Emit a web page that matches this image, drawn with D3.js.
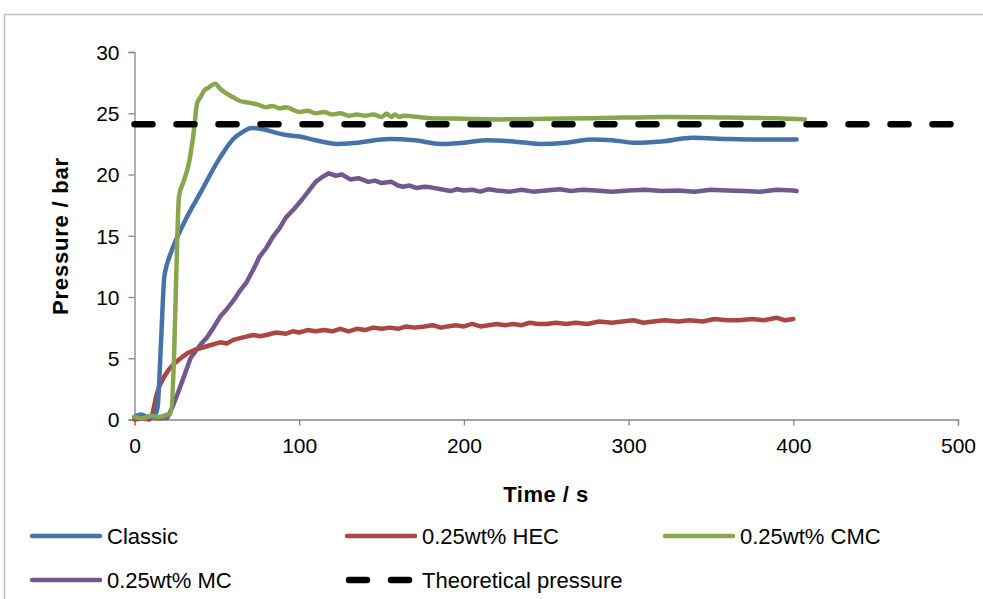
<!DOCTYPE html>
<html>
<head>
<meta charset="utf-8">
<script src="https://cdnjs.cloudflare.com/ajax/libs/d3/7.8.5/d3.min.js"></script>
<style>
  body { margin: 0; background: #fff; }
  text { font-family: "Liberation Sans", Arial, sans-serif; fill: #000; }
</style>
</head>
<body>
<div id="chart"></div>
<script>
var svgWidth = 983;
var svgHeight = 599;

// Series data (time in s, pressure in bar)
var classicTime = [0, 4, 8, 12, 14, 16, 18, 19, 21, 25, 31, 40, 52, 60, 66, 71, 78, 86, 93, 100, 110, 123, 135, 155, 170, 186, 200, 214, 230, 246, 262, 277, 290, 303, 320, 339, 360, 380, 402];
var classicPressure = [0.2, 0.4, 0.2, 0.3, 1.0, 6.0, 11.5, 12.3, 13.2, 14.6, 16.3, 18.5, 21.4, 22.9, 23.5, 23.8, 23.7, 23.4, 23.2, 23.1, 22.8, 22.5, 22.6, 22.9, 22.8, 22.5, 22.6, 22.8, 22.7, 22.5, 22.6, 22.85, 22.8, 22.6, 22.7, 23.0, 22.9, 22.85, 22.85];

var hecTime = [0, 5, 9, 11, 13, 15, 18, 21, 24, 28, 32, 37, 42, 47, 52, 56, 60, 66, 72, 76, 80, 86, 92, 96, 100, 105, 110, 115, 120, 125, 130, 135, 140, 145, 150, 155, 160, 165, 170, 176, 181, 186, 190, 195, 200, 205, 210, 215, 220, 225, 230, 235, 240, 245, 250, 256, 262, 268, 275, 282, 290, 296, 303, 309, 315, 322, 330, 337, 345, 352, 360, 367, 375, 382, 390, 395, 400];
var hecPressure = [0, 0.1, 0, 0.5, 1.8, 2.7, 3.5, 4.1, 4.55, 5.0, 5.4, 5.7, 5.9, 6.1, 6.3, 6.2, 6.5, 6.7, 6.9, 6.8, 6.9, 7.1, 7.0, 7.2, 7.1, 7.3, 7.2, 7.3, 7.2, 7.4, 7.2, 7.4, 7.3, 7.5, 7.4, 7.5, 7.4, 7.6, 7.5, 7.6, 7.7, 7.5, 7.6, 7.7, 7.6, 7.8, 7.6, 7.7, 7.8, 7.7, 7.8, 7.7, 7.9, 7.8, 7.8, 7.9, 7.8, 7.9, 7.8, 8.0, 7.9, 8.0, 8.1, 7.9, 8.0, 8.1, 8.0, 8.1, 8.0, 8.2, 8.1, 8.1, 8.2, 8.1, 8.3, 8.1, 8.2];

var cmcTime = [0, 5, 10, 15, 20, 22, 24, 26, 27, 30, 33, 36, 38, 40, 42, 45, 49, 52, 56, 60, 64, 68, 72, 75, 80, 84, 88, 92, 96, 100, 105, 110, 115, 120, 125, 130, 135, 140, 145, 150, 153, 156, 158, 161, 163, 180, 200, 222, 250, 280, 323, 360, 390, 407];
var cmcPressure = [0.2, 0.1, 0.3, 0.2, 0.4, 0.5, 5.0, 15.0, 18.2, 19.5, 20.9, 23.5, 25.8, 26.3, 26.8, 27.1, 27.4, 27.0, 26.6, 26.3, 26.0, 25.9, 25.8, 25.7, 25.5, 25.6, 25.4, 25.5, 25.3, 25.1, 25.2, 25.0, 25.1, 24.9, 25.0, 24.8, 24.9, 24.8, 24.9, 24.7, 24.95, 24.7, 24.9, 24.7, 24.8, 24.6, 24.55, 24.5, 24.55, 24.6, 24.7, 24.65, 24.6, 24.5];

var mcTime = [0, 5, 10, 15, 20, 23, 27, 30, 34, 40, 44, 48, 52, 56, 60, 64, 68, 72, 76, 80, 84, 88, 92, 97, 102, 106, 110, 114, 118, 122, 126, 131, 136, 142, 146, 150, 156, 160, 163, 167, 171, 176, 180, 186, 192, 196, 200, 205, 210, 215, 220, 228, 235, 242, 250, 258, 265, 272, 280, 290, 300, 310, 320, 330, 340, 350, 360, 370, 380, 390, 400, 402];
var mcPressure = [0.2, 0.1, 0.2, 0.1, 0.15, 1.0, 2.4, 3.5, 5.0, 6.1, 6.7, 7.5, 8.4, 9.0, 9.7, 10.5, 11.2, 12.2, 13.3, 14.0, 14.9, 15.6, 16.5, 17.2, 18.0, 18.7, 19.4, 19.8, 20.1, 19.9, 20.0, 19.6, 19.7, 19.4, 19.5, 19.3, 19.4, 19.1, 19.0, 19.1, 18.9, 19.0, 18.95, 18.8, 18.65, 18.8, 18.7, 18.75, 18.6, 18.8, 18.7, 18.6, 18.75, 18.6, 18.7, 18.8, 18.65, 18.75, 18.7, 18.6, 18.7, 18.75, 18.65, 18.7, 18.6, 18.75, 18.7, 18.65, 18.6, 18.75, 18.7, 18.65];

var theoreticalTime = [0, 500];
var theoreticalPressure = [24.1, 24.1];

var xTicks = [0, 100, 200, 300, 400, 500];
var yTicks = [0, 5, 10, 15, 20, 25, 30];

var seriesNames = ["Classic", "0.25wt% HEC", "0.25wt% CMC", "0.25wt% MC", "Theoretical pressure"];
var seriesColors = ["#4572A7", "#AA4643", "#89A54E", "#71588F", "#000000"];

function zipSeries(times, values) {
  return times.map((t, i) => ({ t: t, v: values[i] }));
}

var series = [
  zipSeries(classicTime, classicPressure),
  zipSeries(hecTime, hecPressure),
  zipSeries(cmcTime, cmcPressure),
  zipSeries(mcTime, mcPressure),
  zipSeries(theoreticalTime, theoreticalPressure)
];

var svg = d3.select("#chart")
  .append("svg")
  .attr("width", svgWidth)
  .attr("height", svgHeight);

// chart frame
svg.append("rect")
  .attr("x", 4.5)
  .attr("y", 14.5)
  .attr("width", 1000)
  .attr("height", 700)
  .attr("fill", "none")
  .attr("stroke", "#bfbfbf")
  .attr("stroke-width", 1.5);

var xScale = d3.scaleLinear().domain([0, 500]).range([134.5, 958]);
var yScale = d3.scaleLinear().domain([0, 30]).range([419.5, 52]);

var bottomAxis = d3.axisBottom(xScale).tickValues(xTicks).tickSize(6).tickPadding(13);
var leftAxis = d3.axisLeft(yScale).tickValues(yTicks).tickSize(6).tickPadding(9);

var xAxis = svg.append("g")
  .attr("transform", `translate(0, ${yScale(0)})`)
  .call(bottomAxis);

var yAxis = svg.append("g")
  .attr("transform", `translate(${xScale(0)}, 0)`)
  .call(leftAxis);

[xAxis, yAxis].forEach(function(ax) {
  ax.select(".domain").attr("stroke", "#868686").attr("stroke-width", 1.3);
  ax.selectAll(".tick line").attr("stroke", "#868686").attr("stroke-width", 1.3);
  ax.selectAll(".tick text")
    .attr("fill", "#000")
    .style("font-size", "21px");
});
yAxis.selectAll(".tick text").attr("dy", "0.35em");

// axis titles
svg.append("text")
  .attr("x", 546)
  .attr("y", 502)
  .attr("text-anchor", "middle")
  .style("font-size", "22px")
  .style("font-weight", "bold")
  .style("letter-spacing", "0.5px")
  .text("Time / s");

svg.append("text")
  .attr("transform", "translate(68, 236) rotate(-90)")
  .attr("text-anchor", "middle")
  .style("font-size", "22px")
  .style("font-weight", "bold")
  .style("letter-spacing", "0.8px")
  .text("Pressure / bar");

var smoothLine = d3.line()
  .x(d => xScale(d.t))
  .y(d => yScale(d.v))
  .curve(d3.curveMonotoneX);

var noisyLine = d3.line()
  .x(d => xScale(d.t))
  .y(d => yScale(d.v));

// draw order: purple under the others like the picture
var drawOrder = [3, 1, 0, 2, 4];
drawOrder.forEach(function(i) {
  var path = svg.append("path")
    .datum(series[i])
    .attr("fill", "none")
    .attr("stroke", seriesColors[i])
    .attr("stroke-linejoin", "round")
    .attr("stroke-linecap", "round")
    .attr("d", (i === 1 || i === 3) ? noisyLine : smoothLine);
  if (i === 4) {
    path.attr("stroke-width", 6.5)
      .attr("stroke-dasharray", "18,24");
  } else {
    path.attr("stroke-width", 4.5);
  }
});

// legend
var legendPos = [[30, 536], [345, 536], [663, 536], [30, 580], [345, 580]];
var legend = svg.append("g");
seriesNames.forEach(function(name, i) {
  var x = legendPos[i][0];
  var y = legendPos[i][1];
  var item = legend.append("line")
    .attr("x1", x + 2)
    .attr("x2", x + 70)
    .attr("y1", y)
    .attr("y2", y)
    .attr("stroke", seriesColors[i])
    .attr("stroke-linecap", "round");
  if (i === 4) {
    item.attr("stroke-width", 6.5).attr("stroke-dasharray", "18,24").attr("x1", x + 4);
  } else {
    item.attr("stroke-width", 4.5);
  }
  legend.append("text")
    .attr("x", x + 77)
    .attr("y", y + 8)
    .style("font-size", "22px")
    .text(name);
});
</script>
</body>
</html>
